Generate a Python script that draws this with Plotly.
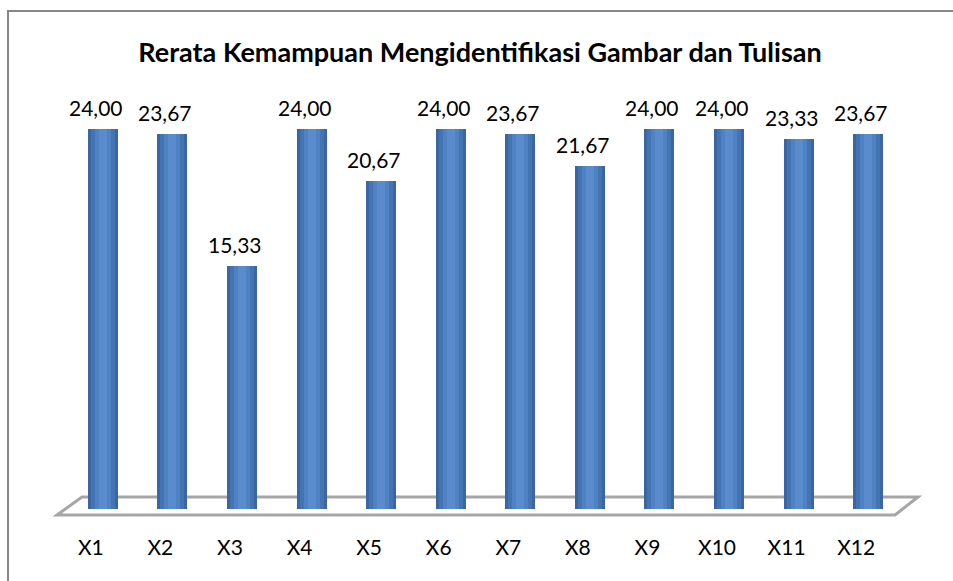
import plotly.graph_objects as go

categories = ["X1", "X2", "X3", "X4", "X5", "X6", "X7", "X8", "X9", "X10", "X11", "X12"]
values = [24.00, 23.67, 15.33, 24.00, 20.67, 24.00, 23.67, 21.67, 24.00, 24.00, 23.33, 23.67]
value_labels = [f"{v:.2f}".replace(".", ",") for v in values]
title_text = "Rerata Kemampuan Mengidentifikasi Gambar dan Tulisan"

FONT = "Lato, 'Open Sans', sans-serif"
W, H = 953, 581
L, R, T, B = 56, 62, 20, 72
PW = W - L - R
PH = H - T - B
CAT_PX = PW / len(categories)
BAR_SHIFT = 12 / CAT_PX  # bars sit slightly right of tick labels (3D perspective)


def px(xp):
    return (xp - L) / PW


def py(yp):
    return (H - B - yp) / PH


fig = go.Figure()

# layered bars to imitate cylinder shading
layers = [(30, "#3a67a3"), (24, "#4574b3"), (16, "#4f82c2"), (8, "#5a8ccd")]
for wpx, col in layers:
    wu = wpx / CAT_PX
    fig.add_trace(go.Bar(
        x=categories, y=values,
        width=wu, offset=BAR_SHIFT - wu / 2,
        marker=dict(color=col, line=dict(width=0)),
        hoverinfo="skip" if wpx != 30 else None,
        showlegend=False,
    ))

for c, v, t in zip(categories, values, value_labels):
    fig.add_annotation(x=c, y=v, text=t, showarrow=False, yanchor="bottom",
                       xshift=5, yshift=7,
                       font=dict(family=FONT, size=21, color="#000000"))

shapes = []
# 3D floor
floor = [(57, 515), (895, 515), (918, 497), (82, 497)]
path = "M " + " L ".join(f"{px(a):.5f},{py(b):.5f}" for a, b in floor) + " Z"
shapes.append(dict(type="path", xref="paper", yref="paper", path=path,
                   line=dict(color="#a6a6a6", width=3), fillcolor="#ffffff", layer="below"))
# chart border (top and left edges visible)
border = [(980, 11), (8, 11), (8, 600)]
bpath = "M " + " L ".join(f"{px(a):.5f},{py(b):.5f}" for a, b in border)
shapes.append(dict(type="path", xref="paper", yref="paper", path=bpath,
                   line=dict(color="#878787", width=2), layer="below"))

fig.update_layout(
    width=W, height=H,
    margin=dict(l=L, r=R, t=T, b=B),
    paper_bgcolor="white", plot_bgcolor="rgba(0,0,0,0)",
    barmode="overlay", bargap=0,
    shapes=shapes,
    title=dict(text=f"<b>{title_text}</b>", x=480 / W, xref="container", xanchor="center",
               y=1 - 53 / H, yref="container", yanchor="middle",
               font=dict(family=FONT, size=27, color="#000000")),
    xaxis=dict(type="category", categoryorder="array", categoryarray=categories,
               range=[-0.5, len(categories) - 0.5],
               showgrid=False, zeroline=False, showline=False, ticks="",
               ticklabelstandoff=24,
               tickfont=dict(family=FONT, size=21, color="#000000")),
    yaxis=dict(range=[0, PH / 15.85], visible=False, showgrid=False, zeroline=False),
)

fig.write_html("out.html", config={"displayModeBar": False},
               post_script="document.body.style.margin='0';document.body.style.overflow='hidden';")
